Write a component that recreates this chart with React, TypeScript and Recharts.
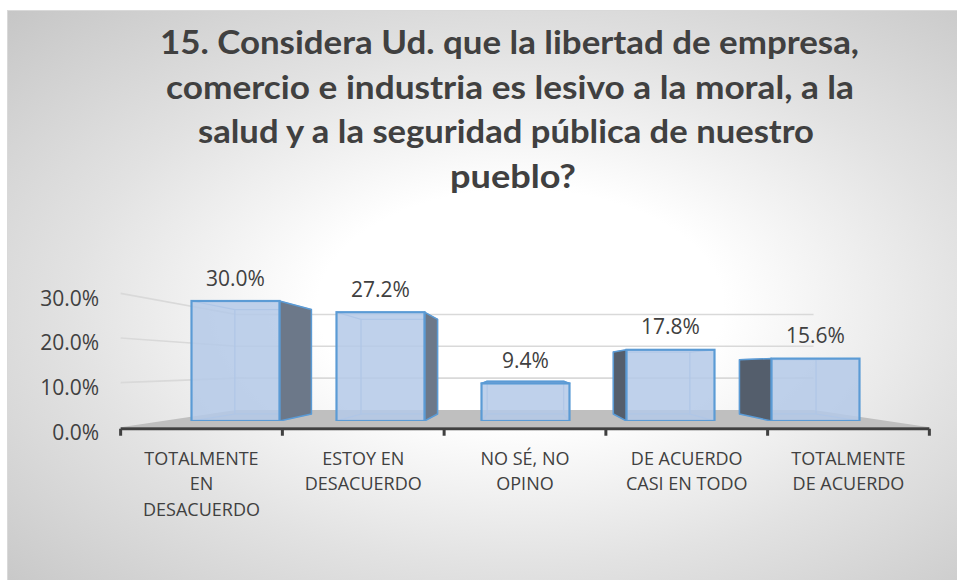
import React from 'react';
import { BarChart, Bar, XAxis, YAxis, CartesianGrid, LabelList } from 'recharts';

// ---------- data ----------
const TITLE_LINES = [
  '15. Considera Ud. que la libertad de empresa,',
  'comercio e industria es lesivo a la moral, a la',
  'salud y a la seguridad pública de nuestro',
  'pueblo?',
];
const CATEGORIES = [
  'TOTALMENTE EN DESACUERDO',
  'ESTOY EN DESACUERDO',
  'NO SÉ, NO OPINO',
  'DE ACUERDO CASI EN TODO',
  'TOTALMENTE DE ACUERDO',
];
const CATEGORY_LINES = [
  ['TOTALMENTE', 'EN', 'DESACUERDO'],
  ['ESTOY EN', 'DESACUERDO'],
  ['NO SÉ, NO', 'OPINO'],
  ['DE ACUERDO', 'CASI EN TODO'],
  ['TOTALMENTE', 'DE ACUERDO'],
];
const VALUES = [30.0, 27.2, 9.4, 17.8, 15.6];
const Y_TICKS = [0, 10, 20, 30];
const Y_DOMAIN: [number, number] = [0, 40];

const DATA = CATEGORIES.map((name, i) => ({ name, value: VALUES[i] }));

// ---------- layout / style ----------
const W = 950;
const H = 570;
const MARGIN = { top: 250, right: 70.5, bottom: 100, left: 94.5 };
const YAXIS_W = 60;
const XAXIS_H = 60;
const PLOT_TOP = MARGIN.top;
const PLOT_BOTTOM = H - MARGIN.bottom - XAXIS_H;
const VP = { x: 517, y: 356 }; // vanishing point of the 3D perspective
const K_FRONT = -0.1155; // front plane (axis, labels)
const K_BAR = 0.13; // depth of bars
const K_WALL = 0.204; // back wall

const TEXT = '#404040';
const NUM_FONT = "'Liberation Sans Narrow', 'Open Sans', sans-serif";
const CAT_FONT = "'Open Sans', sans-serif";
const TITLE_FONT = "Lato, 'Open Sans', sans-serif";
const TITLE_LAYOUT = [
  { x: 152, y: 43, len: 699 },
  { x: 158, y: 87.5, len: 688 },
  { x: 190, y: 132, len: 616 },
  { x: 442, y: 177, len: 126 },
];

const proj = (x: number, y: number, k: number): [number, number] => [
  x + k * (VP.x - x),
  y + k * (VP.y - y),
];

const renderGridLine = (props: any) => {
  const { x1, x2, y1 } = props;
  if (Math.abs(y1 - PLOT_TOP) < 0.5) return <g key="top" />;
  if (Math.abs(y1 - PLOT_BOTTOM) < 0.5) {
    const [fx1, fy] = proj(x1, y1, K_FRONT);
    const [fx2] = proj(x2, y1, K_FRONT);
    const [bx1, by] = proj(x1, y1, K_WALL);
    const [bx2] = proj(x2, y1, K_WALL);
    const band = (x2 - x1) / CATEGORIES.length;
    const ay = fy + 1.5;
    const ticks = [];
    for (let i = 0; i <= CATEGORIES.length; i++) {
      const [tx] = proj(x1 + i * band, y1, K_FRONT);
      ticks.push(<line key={i} x1={tx} y1={ay} x2={tx} y2={ay + 7} stroke="#404040" strokeWidth={3} />);
    }
    return (
      <g key="floor">
        <polygon points={`${bx1},${by} ${bx2},${by} ${fx2},${fy} ${fx1},${fy}`} fill="#bfbfbf" />
        <line x1={fx1} y1={ay} x2={fx2} y2={ay} stroke="#404040" strokeWidth={3} />
        {ticks}
      </g>
    );
  }
  const [fx, fy] = proj(x1, y1, K_FRONT);
  const [bx1, by] = proj(x1, y1, K_WALL);
  const [bx2] = proj(x2, y1, K_WALL);
  return (
    <polyline
      key={`g-${y1}`}
      points={`${fx},${fy} ${bx1},${by} ${bx2},${by}`}
      fill="none"
      stroke="#d9d9d9"
      strokeWidth={1.6}
    />
  );
};

const renderBar = (props: any) => {
  const { x, y, width: w, height: h } = props;
  if (w == null || h == null || isNaN(x) || isNaN(y)) return null;
  const [bx1, by1] = proj(x, y, K_BAR);
  const [bx2, by2] = proj(x + w, y + h, K_BAR);
  const showRight = x + w < VP.x;
  const showLeft = x > VP.x;
  const showTop = y > VP.y;
  return (
    <g>
      <g stroke="#93b3df" strokeWidth={1.2} fill="none">
        <rect x={bx1} y={by1} width={bx2 - bx1} height={by2 - by1} />
        <line x1={x} y1={y} x2={bx1} y2={by1} />
        <line x1={x + w} y1={y} x2={bx2} y2={by1} />
        <line x1={x} y1={y + h} x2={bx1} y2={by2} />
        <line x1={x + w} y1={y + h} x2={bx2} y2={by2} />
      </g>
      {showRight && (
        <polygon
          points={`${x + w},${y} ${bx2},${by1} ${bx2},${by2} ${x + w},${y + h}`}
          fill="#6c7889"
          stroke="#5b9bd5"
          strokeWidth={1.5}
          strokeLinejoin="round"
        />
      )}
      {showLeft && (
        <polygon
          points={`${x},${y} ${bx1},${by1} ${bx1},${by2} ${x},${y + h}`}
          fill="#545e6c"
          stroke="#5b9bd5"
          strokeWidth={1.5}
          strokeLinejoin="round"
        />
      )}
      {showTop && (
        <polygon
          points={`${x},${y} ${x + w},${y} ${bx2},${by1} ${bx1},${by1}`}
          fill="#8aa9d6"
          stroke="#5b9bd5"
          strokeWidth={1.5}
          strokeLinejoin="round"
        />
      )}
      <rect x={x} y={y} width={w} height={h} fill="#b4c9e8" fillOpacity={0.85} stroke="#5b9bd5" strokeWidth={2.2} />
    </g>
  );
};

const renderDataLabel = (props: any) => {
  const { x, y, width, value } = props;
  return (
    <text
      x={Number(x) + Number(width) / 2}
      y={Number(y) - 23.5}
      textAnchor="middle"
      dominantBaseline="central"
      fill={TEXT}
      fontFamily={NUM_FONT}
      fontSize={21}
    >
      {Number(value).toFixed(1)}%
    </text>
  );
};

const XTick = (props: any) => {
  const { x, y, payload } = props;
  const idx = CATEGORIES.indexOf(payload.value);
  const lines = CATEGORY_LINES[idx] || [String(payload.value)];
  const [px, py] = proj(x, y, K_FRONT);
  return (
    <text
      x={px}
      y={py + 30.5}
      textAnchor="middle"
      dominantBaseline="central"
      fill={TEXT}
      fontFamily={CAT_FONT}
      fontSize={18}
    >
      {lines.map((ln: string, i: number) => (
        <tspan key={i} x={px} dy={i === 0 ? 0 : 25.7}>
          {ln}
        </tspan>
      ))}
    </text>
  );
};

const YTick = (props: any) => {
  const { x, y, payload } = props;
  const [px, py] = proj(x, y, K_FRONT);
  return (
    <text
      x={px - 21.5}
      y={py + 4.5}
      textAnchor="end"
      dominantBaseline="central"
      fill={TEXT}
      fontFamily={NUM_FONT}
      fontSize={21}
    >
      {Number(payload.value).toFixed(1)}%
    </text>
  );
};

export default function App() {
  return (
    <div
      style={{
        position: 'absolute',
        left: 7,
        top: 10,
        width: W,
        height: H,
        boxSizing: 'border-box',
        borderLeft: '1px solid #d9d9d9',
        borderTop: '1px solid #d9d9d9',
        background:
          'radial-gradient(ellipse farthest-corner at 54% 52%, #ffffff 0%, #ffffff 28%, #e2e2e2 62%, #c6c6c6 100%)',
        overflow: 'hidden',
      }}
    >
      <svg width={W} height={200} style={{ position: 'absolute', left: 0, top: 0 }}>
        {TITLE_LINES.map((t, i) => (
          <text
            key={i}
            x={TITLE_LAYOUT[i].x}
            y={TITLE_LAYOUT[i].y}
            textLength={TITLE_LAYOUT[i].len}
            lengthAdjust="spacingAndGlyphs"
            fontFamily={TITLE_FONT}
            fontWeight={700}
            fontSize={32}
            fill={TEXT}
          >
            {t}
          </text>
        ))}
      </svg>
      <div style={{ position: 'absolute', left: 0, top: 0 }}>
        <BarChart width={W} height={H} data={DATA} margin={MARGIN}>
          <CartesianGrid vertical={false} horizontal={renderGridLine} />
          <XAxis
            dataKey="name"
            interval={0}
            height={XAXIS_H}
            tickSize={0}
            tickMargin={0}
            tickLine={false}
            axisLine={false}
            tick={<XTick />}
          />
          <YAxis
            width={YAXIS_W}
            domain={Y_DOMAIN}
            ticks={Y_TICKS}
            allowDataOverflow
            tickSize={0}
            tickMargin={0}
            tickLine={false}
            axisLine={false}
            tick={<YTick />}
          />
          <Bar dataKey="value" barSize={88} isAnimationActive={false} shape={renderBar}>
            <LabelList dataKey="value" content={renderDataLabel} />
          </Bar>
        </BarChart>
      </div>
    </div>
  );
}
